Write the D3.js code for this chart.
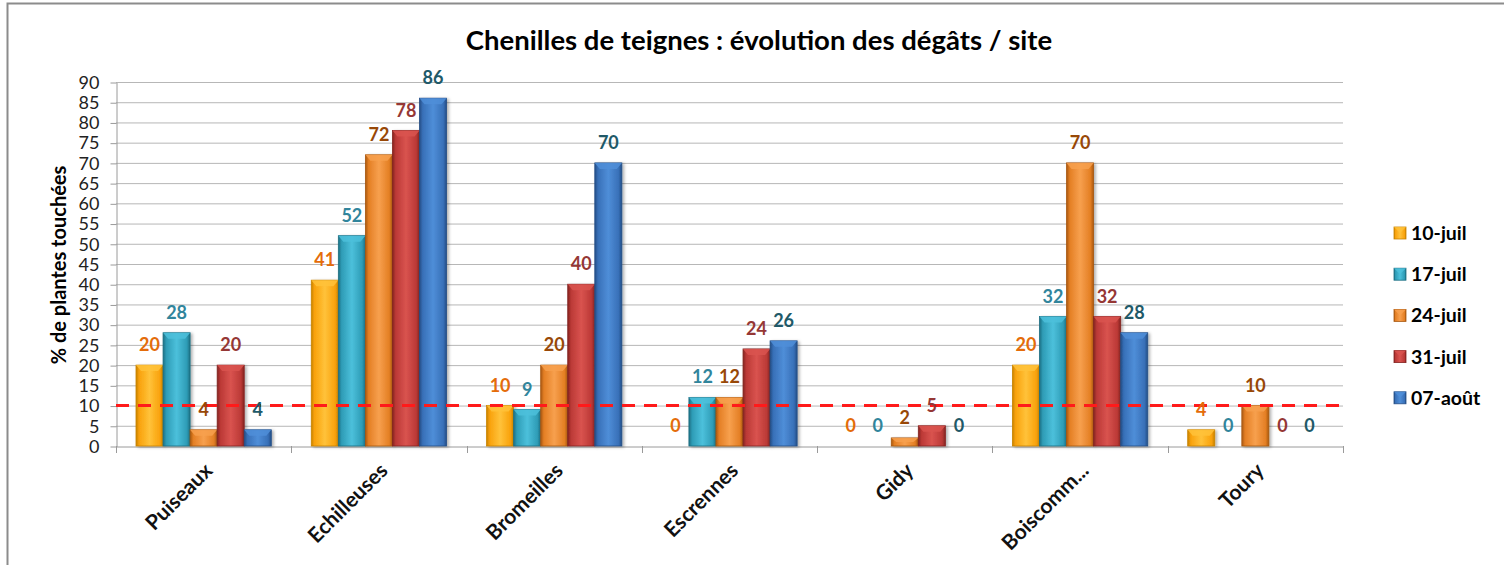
<!DOCTYPE html>
<html><head><meta charset="utf-8">
<script src="https://cdn.jsdelivr.net/npm/d3@7"></script>
<style>body{margin:0;background:#fff;} svg{display:block;font-family:Lato,"Open Sans",sans-serif;}</style>
</head><body>
<svg id="c" width="1504" height="565"></svg>
<script>
const sites = ["Puiseaux","Echilleuses","Bromeilles","Escrennes","Gidy","Boiscomm...","Toury"];
const seriesNames = ["10-juil","17-juil","24-juil","31-juil","07-août"];
const v10juil = [20,41,10,0,0,20,4];
const v17juil = [28,52,9,12,0,32,0];
const v24juil = [4,72,20,12,2,70,10];
const v31juil = [20,78,40,24,5,32,0];
const v07aout = [4,86,70,26,0,28,0];
const yTicks = [0,5,10,15,20,25,30,35,40,45,50,55,60,65,70,75,80,85,90];
const threshold = 10;
const title = "Chenilles de teignes : évolution des dégâts / site";
const yTitle = "% de plantes touchées";

const seriesValues = [v10juil,v17juil,v24juil,v31juil,v07aout];
const barColors = [
  {base:"#F9A20C", light:"#FFC23A", dark:"#C98300"},
  {base:"#2E9CB6", light:"#4CC0DB", dark:"#1D6F83"},
  {base:"#E47F24", light:"#F7A04E", dark:"#A95810"},
  {base:"#BB3936", light:"#D9534F", dark:"#842421"},
  {base:"#3870B8", light:"#4F8ED8", dark:"#244E86"}
];
const labelColors = ["#E46C0A","#31859C","#984807","#953735","#215968"];

const svg = d3.select("#c");
const plot = {x0:116, x1:1343, y0:82, y1:446};

// frame
svg.append("rect").attr("x",7.5).attr("y",3.5).attr("width",1520).attr("height",600)
  .attr("fill","none").attr("stroke","#8c8c8c").attr("stroke-width",2);

const defs = svg.append("defs");
barColors.forEach((c,i)=>{
  const g = defs.append("linearGradient").attr("id","g"+i).attr("x1","0").attr("x2","1").attr("y1","0").attr("y2","0");
  [[0,c.dark],[0.12,c.base],[0.5,c.light],[0.88,c.base],[1,c.dark]].forEach(s=>g.append("stop").attr("offset",s[0]).attr("stop-color",s[1]));
});
const f = defs.append("filter").attr("id","sh").attr("x","-20%").attr("y","-20%").attr("width","150%").attr("height","150%");
f.append("feDropShadow").attr("dx",2).attr("dy",1).attr("stdDeviation",1.5).attr("flood-color","#000").attr("flood-opacity",0.3);

const x0 = d3.scaleBand().domain(sites).range([plot.x0,plot.x1]).paddingInner(0).paddingOuter(0);
const x1 = d3.scaleBand().domain(seriesNames).range([20, x0.bandwidth()-20]).padding(0);
const y = d3.scaleLinear().domain([0,90]).range([plot.y1,plot.y0]);

// gridlines
svg.append("g").selectAll("line").data(yTicks.filter(t=>t>0)).join("line")
  .attr("x1",plot.x0).attr("x2",plot.x1).attr("y1",d=>y(d)+0.5).attr("y2",d=>y(d)+0.5)
  .attr("stroke","#b7b7b7").attr("stroke-width",1);

// y axis
const yAxis = svg.append("g").attr("transform",`translate(${plot.x0+0.5},0.5)`)
  .call(d3.axisLeft(y).tickValues(yTicks).tickSize(6).tickPadding(11).tickSizeOuter(0));
yAxis.select(".domain").attr("stroke","#9a9a9a");
yAxis.selectAll(".tick line").attr("stroke","#9a9a9a");
yAxis.selectAll("text").attr("font-family","Lato, sans-serif").attr("font-size",18).attr("fill","#222");

// x axis
const xAxis = svg.append("g").attr("transform",`translate(0.5,${plot.y1+0.5})`)
  .call(d3.axisBottom(x0).tickSize(0).tickFormat(""));
xAxis.select(".domain").attr("stroke","#9a9a9a");
const boundaries = sites.map(s=>x0(s)).concat([x0(sites[sites.length-1])+x0.bandwidth()]);
svg.append("g").selectAll("line").data(boundaries).join("line")
  .attr("x1",d=>Math.round(d)+0.5).attr("x2",d=>Math.round(d)+0.5)
  .attr("y1",plot.y1).attr("y2",plot.y1+7).attr("stroke","#9a9a9a");

svg.append("g").selectAll("text").data(sites).join("text")
  .attr("transform",d=>`translate(${x0(d)+x0.bandwidth()/2+10},${plot.y1+26}) rotate(-45)`)
  .attr("text-anchor","end").attr("font-weight","bold").attr("font-size",21).attr("fill","#111")
  .text(d=>d);

// bars
const data = [];
sites.forEach((s,si)=>seriesNames.forEach((n,ni)=>data.push({site:s,series:n,si:ni,v:seriesValues[ni][si]})));
const bars = svg.append("g");
data.filter(d=>d.v>0).forEach(d=>{
  const bx = x0(d.site)+x1(d.series), bw = x1.bandwidth();
  const top = y(d.v), h = y(0)-y(d.v);
  const g = bars.append("g");
  g.append("rect").attr("x",bx).attr("y",top).attr("width",bw).attr("height",h)
    .attr("fill",`url(#g${d.si})`).attr("stroke",barColors[d.si].dark).attr("stroke-width",0.8).attr("filter","url(#sh)");
  const bev = Math.min(6,h/2);
  g.append("path").attr("d",`M${bx},${top} L${bx+bw},${top} L${bx+bw-5},${top+bev} L${bx+5},${top+bev} Z`)
    .attr("fill",barColors[d.si].light).attr("opacity",0.85);
});

// threshold line
svg.append("line").attr("x1",plot.x0).attr("x2",plot.x1+2).attr("y1",y(threshold)).attr("y2",y(threshold))
  .attr("stroke","#FF1a1a").attr("stroke-width",3).attr("stroke-dasharray","13,9");

// labels
svg.append("g").selectAll("text").data(data).join("text")
  .attr("x",d=>x0(d.site)+x1(d.series)+x1.bandwidth()/2)
  .attr("y",d=>y(d.v)-14)
  .attr("text-anchor","middle").attr("font-weight","bold").attr("font-size",18)
  .attr("fill",d=>labelColors[d.si]).text(d=>d.v);

// title
svg.append("text").attr("x",759).attr("y",50).attr("text-anchor","middle")
  .attr("font-weight","bold").attr("font-size",27.5).attr("fill","#000").text(title);

// y title
svg.append("text").attr("transform","translate(66,265) rotate(-90)").attr("text-anchor","middle")
  .attr("font-weight","bold").attr("font-size",20).attr("fill","#000").text(yTitle);

// legend
const leg = svg.append("g");
seriesNames.forEach((n,i)=>{
  const ly = 233 + i*41.2;
  leg.append("rect").attr("x",1394).attr("y",ly-6).attr("width",12).attr("height",12)
    .attr("fill",`url(#g${i})`).attr("stroke",barColors[i].dark).attr("stroke-width",0.8);
  leg.append("path").attr("d",`M1394,${ly-6} L1406,${ly-6} L1400,${ly}Z`).attr("fill",barColors[i].light).attr("opacity",0.8);
  leg.append("text").attr("x",1411).attr("y",ly+7).attr("font-weight","bold").attr("font-size",19.5)
    .attr("fill","#000").text(n);
});
</script>
</body></html>
